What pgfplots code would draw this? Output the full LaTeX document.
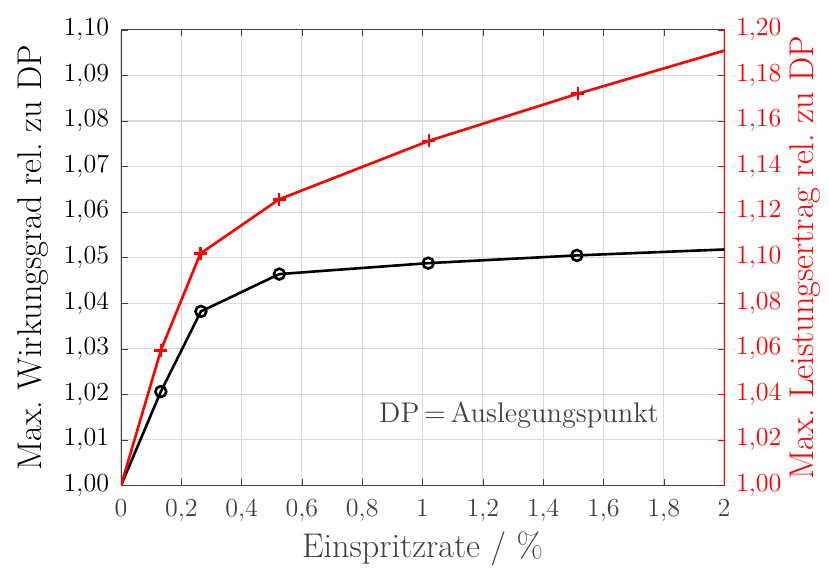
\documentclass[border=0pt]{standalone}
\usepackage{pgfplots}
\pgfplotsset{compat=1.18}
\definecolor{axgray}{HTML}{404040}
\begin{document}
\begin{tikzpicture}
\pgfplotsset{
  every axis/.append style={
    scale only axis, width=278pt, height=210pt,
    xmin=0, xmax=2,
    tick align=inside,
    major tick length=3pt,
    tick label style={font=\fontsize{13.2}{15}\selectfont},
    label style={font=\fontsize{15.8}{18}\selectfont},
  }
}
\begin{axis}[
  ymin=1, ymax=1.1,
  xtick={0,0.2,0.4,0.6,0.8,1,1.2,1.4,1.6,1.8,2},
  ytick={1,1.01,1.02,1.03,1.04,1.05,1.06,1.07,1.08,1.09,1.1},
  xtick pos=both, ytick pos=left,
  grid=major, grid style={gray!30, line width=0.5pt},
  axis line style={axgray},
  tick style={axgray},
  yticklabel style={xshift=-2pt, /pgf/number format/.cd, use comma, fixed, fixed zerofill, precision=2},
  xticklabel style={yshift=-3pt, text=axgray, /pgf/number format/.cd, use comma, fixed, precision=1},
  xlabel={Einspritzrate / \%}, xlabel style={text=axgray}, xlabel shift=-2pt,
  ylabel={Max.\ Wirkungsgrad rel.\ zu DP}, ylabel shift=0pt,
]
\addplot[black, line width=1.2pt, mark=o, mark size=2.5pt, mark indices={2,3,4,5,6}] coordinates {
  (0,1.0) (0.132,1.0206) (0.265,1.0382) (0.525,1.0464) (1.019,1.0488) (1.512,1.0505) (2.0,1.0518)
};
\node[text=axgray, font=\fontsize{13.1}{15}\selectfont] at (axis cs:1.32,1.0155) {DP\,=\,Auslegungspunkt};
\end{axis}
\begin{axis}[
  ymin=1, ymax=1.2,
  axis y line*=right, axis x line=none,
  ytick={1,1.02,1.04,1.06,1.08,1.1,1.12,1.14,1.16,1.18,1.2},
  y axis line style={red}, ytick style={red},
  yticklabel style={xshift=2pt, text=red, /pgf/number format/.cd, use comma, fixed, fixed zerofill, precision=2},
  ylabel={Max.\ Leistungsertrag rel.\ zu DP}, ylabel style={text=red}, ylabel shift=-3pt,
]
\addplot[red, line width=1.2pt, mark=+, mark size=3pt, mark indices={2,3,4,5,6}] coordinates {
  (0,1.0) (0.132,1.0593) (0.263,1.1018) (0.524,1.1256) (1.021,1.1513) (1.515,1.172) (2.0,1.1909)
};
\end{axis}
\path ([yshift=13.8pt]current axis.north) ([xshift=-55.8pt]current axis.south west)
  ([yshift=-37.8pt]current axis.south) ([xshift=48.4pt]current axis.east);
\end{tikzpicture}
\end{document}
